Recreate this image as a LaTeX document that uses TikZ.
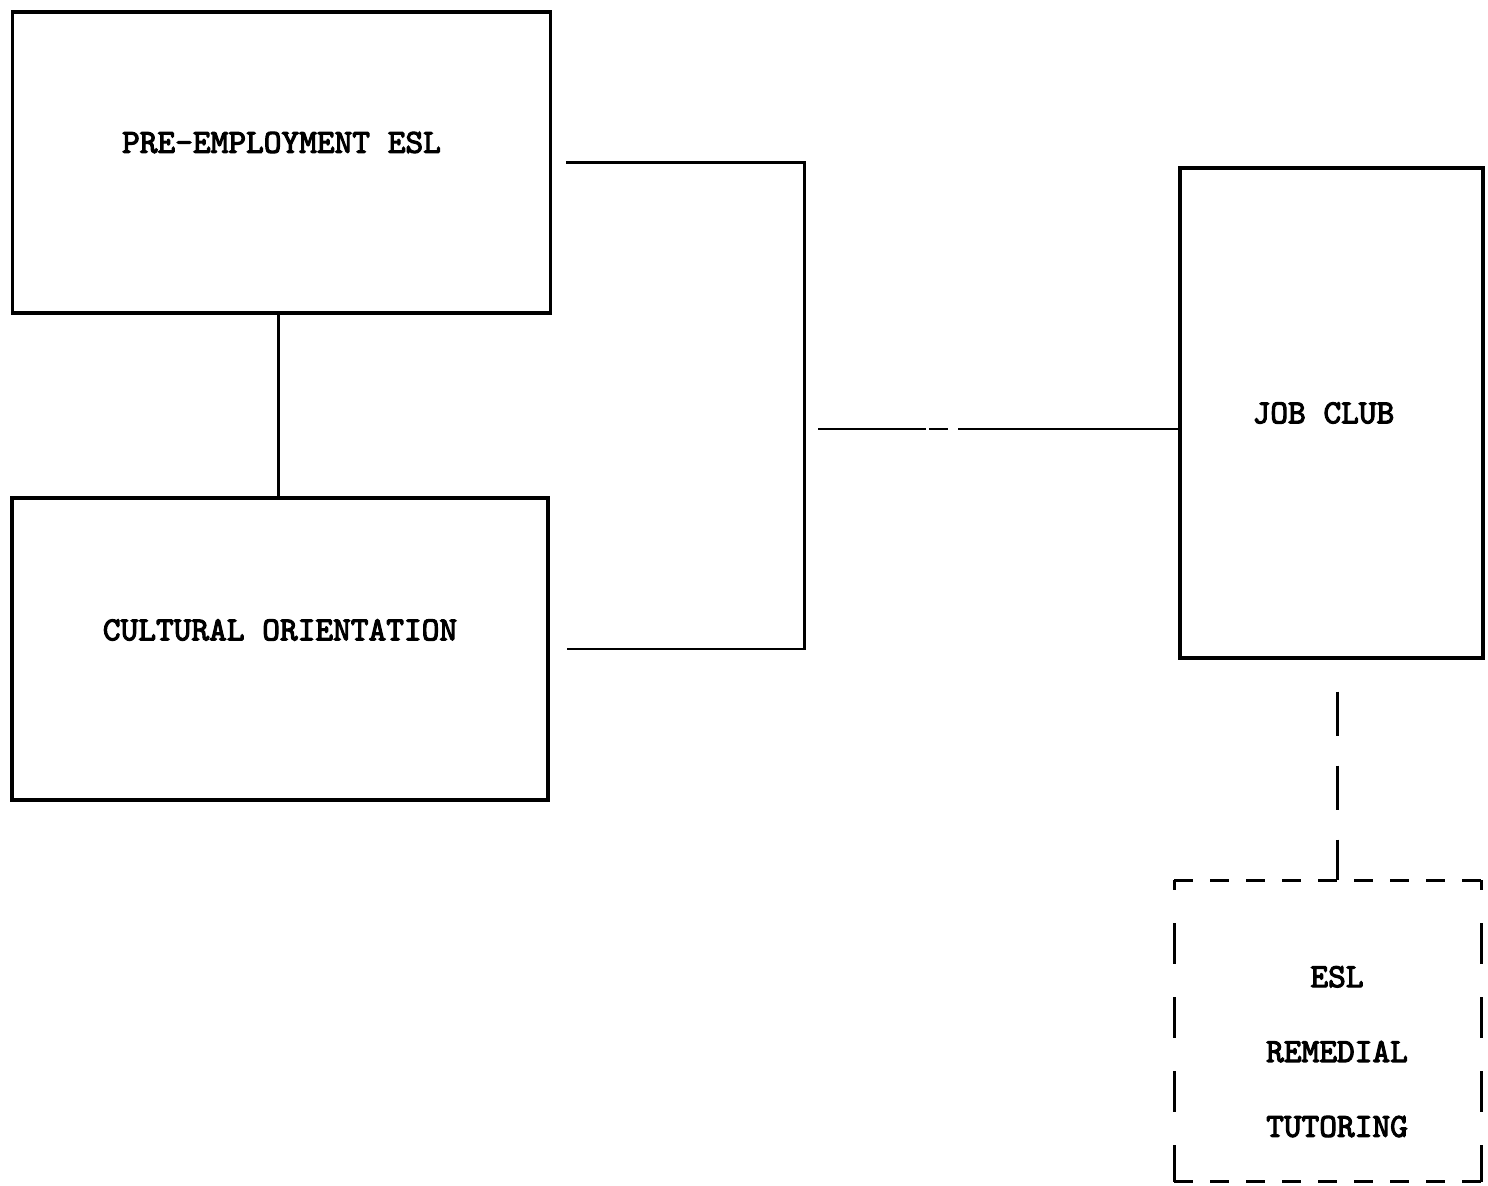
\documentclass[tikz,border=0pt]{standalone}
\usepackage{fontspec}
\newfontfamily\typefont{lmmono10-regular.otf}[FakeBold=3.2]
\usetikzlibrary{positioning,calc}
\tikzset{box/.style={draw,line width=0.9pt,minimum width=53.8mm,minimum height=30.1mm,inner sep=0pt,align=center,font=\typefont\fontsize{9.6}{11}\selectfont},tall/.style={box,minimum width=30.3mm,minimum height=49mm},aux/.style={box,draw=none,minimum width=30.4mm,minimum height=29.8mm,font=\typefont\fontsize{9.6}{21.3}\selectfont},link/.style={line width=0.85pt},gaplink/.style={link,dash pattern=on 10.8mm off 0.3mm on 1.9mm off 1mm on 40mm},auxlink/.style={link,dash pattern=on 4.4mm off 3mm},hside/.style={link,dash pattern=on 1.9mm off 1.7mm},vside/.style={link,dash pattern=on 4.1mm off 3.3mm,dash phase=0.4mm}}
\begin{document}
\begin{tikzpicture}[x=0.1mm,y=-0.1mm]
\useasboundingbox (0,0) rectangle (1488,1186);
\node[box] (pre) at (281.5,162.5) {\raisebox{2mm}[\height][\depth]{PRE-EMPLOYMENT ESL}};\node[box,minimum width=53.6mm,minimum height=30.2mm] (cult) at (280,649) {\raisebox{1.9mm}[\height][\depth]{CULTURAL ORIENTATION}};
\node[tall] (job) at (1331.5,413) {\hspace*{-1.6mm}JOB CLUB};\node[aux] (esl) at (1328,1031) {\hspace*{1.8mm}\raisebox{-1.6mm}[\height][\depth]{\begin{tabular}{@{}c@{}}ESL\\REMEDIAL\\TUTORING\end{tabular}}};
\coordinate (bt) at ([xshift=1.4mm]pre.east);\coordinate (bb) at ([xshift=1.7mm]cult.east);\coordinate (mid) at (818,429);\coordinate (jt) at ([xshift=0.6mm,yshift=-3.2mm]job.south);
\draw[link] ([xshift=-0.3mm]pre.south) -- ([xshift=-0.3mm]pre.south |- cult.north);\draw[link] (bt) -- ++(238,0) |- (bb);\draw[gaplink] (mid) -- (mid -| job.west);
\draw[auxlink] (jt) -- (jt |- esl.north);
% dashed outline of the tutoring box
\draw[hside] (esl.north west) -- (esl.north east);\draw[hside] (esl.south west) -- (esl.south east);\draw[vside] (esl.south west) -- (esl.north west);\draw[vside] (esl.south east) -- (esl.north east);
\end{tikzpicture}
\end{document}
